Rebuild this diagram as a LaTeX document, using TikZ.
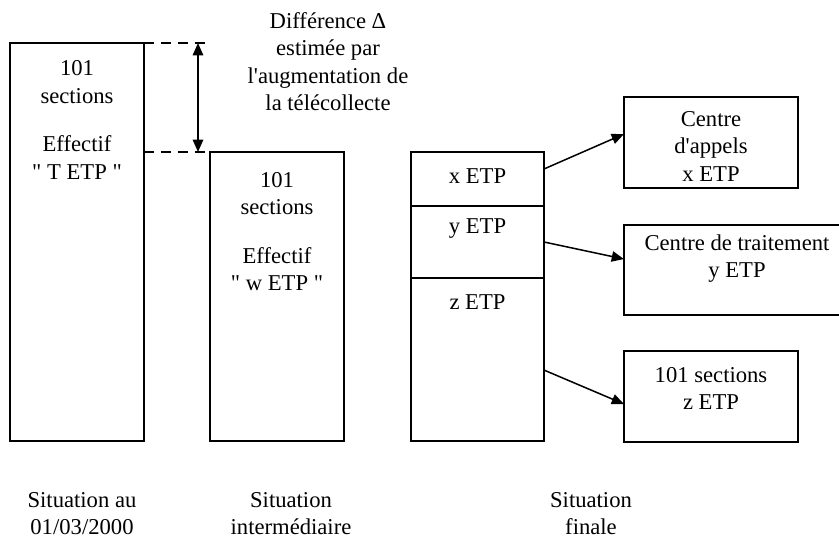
\documentclass[tikz,border=0pt]{standalone}
\usepackage{fontspec}
\setmainfont[Ligatures=TeXOff]{Liberation Serif}
\usetikzlibrary{arrows.meta,positioning}

\newcommand{\px}{0.53pt}

\begin{document}
\begin{tikzpicture}[x=0.53pt,y=-0.53pt,
  box/.style={draw,line width=0.8pt,inner sep=0pt,outer sep=0pt},
  txt/.style={align=center,inner sep=0pt,font=\fontsize{12}{14.6}\selectfont},
  conn/.style={line width=0.8pt,-{Triangle[length=6.5pt,width=5.5pt]}},
  gap/.style={line width=0.8pt,{Triangle[length=6.5pt,width=5.5pt]}-{Triangle[length=6.5pt,width=5.5pt]}},
  guide/.style={line width=0.8pt,dash pattern=on 5.3pt off 3.7pt}]
  \useasboundingbox (0,0) rectangle (839,539);

  % the three columns
  \node[box,minimum width=134*\px,minimum height=398*\px] (sit1) at (77,242) {};
  \node[box,minimum width=134*\px,minimum height=289*\px] (sit2) at (277,296.5) {};
  \node[box,minimum width=133*\px,minimum height=54*\px] (finx) at (477.5,179) {};
  \node[box,minimum width=133*\px,minimum height=72*\px,below=0pt of finx] (finy) {};
  \node[box,minimum width=133*\px,minimum height=163*\px,below=0pt of finy] (finz) {};

  \node[txt] (sit1-txt) at (77,120) {101\\sections\\[11pt]Effectif\\" T ETP "};
  \node[txt] (sit2-txt) at (277,231.5) {101\\sections\\[11pt]Effectif\\" w ETP "};
  \node[txt] (finx-txt) at (477.5,176) {x ETP};
  \node[txt] (finy-txt) at (477.5,229) {y ETP};
  \node[txt] (finz-txt) at (477.5,302) {z ETP};

  % gap between the first two
  \coordinate (dtop) at (210,43);
  \coordinate (dhi) at (198,43);
  \coordinate (dlo) at (198,152);
  \draw[guide] (sit1.north east) -- (dtop);
  \draw[guide] (sit1.east |- sit2.north) -- (sit2.north west);
  \draw[gap] (dhi) -- (dlo);
  \node[txt] (delta) at (328,61.5) {Différence Δ\\estimée par\\l'augmentation de\\la télécollecte};

  % where the staff goes
  \node[box,minimum width=174*\px,minimum height=91*\px] (cap) at (711,142.5) {};
  \node[box,minimum width=226*\px,minimum height=90*\px] (ctr) at (737,270) {};
  \node[box,minimum width=174*\px,minimum height=91*\px] (sec) at (711,396.5) {};
  \node[txt] (cap-txt) at (711,146.5) {Centre\\d'appels\\x ETP};
  \node[txt] (ctr-txt) at (737,258.5) {Centre de traitement\\y ETP};
  \node[txt] (sec-txt) at (711,388.5) {101 sections\\z ETP};

  \draw[conn] ([yshift=5.3pt]finx.east) -- ([yshift=4.5pt]cap.west);
  \draw[conn] (finy.east) -- ([yshift=5.8pt]ctr.west);
  \draw[conn] ([yshift=-5.6pt]finz.east) -- ([yshift=-4pt]sec.west);

  % column titles
  \node[txt] (lab1) at (82,513.5) {Situation au\\01/03/2000};
  \node[txt] (lab2) at (291,513.5) {Situation\\intermédiaire};
  \node[txt] (lab3) at (591,513.5) {Situation\\finale};
\end{tikzpicture}
\end{document}
